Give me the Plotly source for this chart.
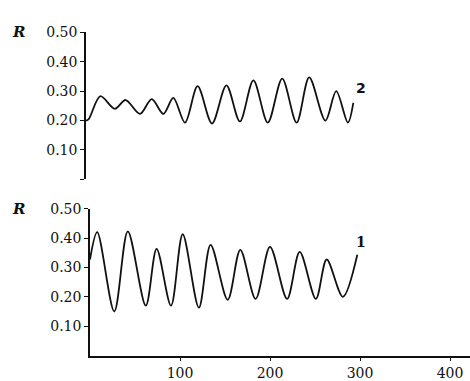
import plotly.graph_objects as go

# Curve 2 (upper panel)
x2 = [0, 3, 16, 32, 44, 60, 73, 86, 97, 110, 124, 140, 156, 171, 186, 202, 218, 234, 248, 266, 278, 291, 297]
r2 = [0.20, 0.205, 0.283, 0.24, 0.27, 0.223, 0.273, 0.223, 0.277, 0.193, 0.317, 0.19, 0.32,
      0.197, 0.337, 0.193, 0.343, 0.193, 0.347, 0.20, 0.30, 0.193, 0.26]

# Curve 1 (lower panel)
x1 = [0, 8, 27, 42, 62, 74, 90, 103, 121, 134, 153, 167, 184, 200, 219, 233, 251, 263, 281, 297]
r1 = [0.327, 0.42, 0.15, 0.423, 0.17, 0.363, 0.17, 0.413, 0.163, 0.377, 0.19, 0.36,
      0.193, 0.37, 0.193, 0.353, 0.193, 0.327, 0.2, 0.343]

y_ticks = [0.10, 0.20, 0.30, 0.40, 0.50]
y_ticktext = ["0.10", "0.20", "0.30", "0.40", "0.50"]
x_ticks = [100, 200, 300, 400]
x_ticktext = ["100", "200", "300", "400"]

W, H = 470, 381
tickfont = dict(family="DejaVu Serif", size=14, color="#111")

fig = go.Figure()
fig.add_trace(go.Scatter(x=x2, y=r2, mode="lines", xaxis="x2", yaxis="y2",
                         line=dict(color="#111", width=1.8, shape="spline", smoothing=0.9),
                         showlegend=False, hoverinfo="skip"))
fig.add_trace(go.Scatter(x=x1, y=r1, mode="lines", xaxis="x", yaxis="y",
                         line=dict(color="#111", width=1.8, shape="spline", smoothing=0.9),
                         showlegend=False, hoverinfo="skip"))

xr = [0, (W - 90) / 0.9]
xr2 = [0, (W - 86) / 0.9]

fig.update_layout(
    width=W, height=H,
    margin=dict(l=0, r=0, t=0, b=0),
    paper_bgcolor="white", plot_bgcolor="white",
    # bottom panel
    xaxis=dict(domain=[90 / W, 1], range=xr, showline=True, linecolor="#111", linewidth=1.5,
               tickvals=x_ticks, ticktext=x_ticktext, ticks="outside", ticklen=4,
               tickcolor="#111", tickfont=tickfont, showgrid=False, zeroline=False,
               anchor="y"),
    yaxis=dict(domain=[(H - 355) / H, (H - 205) / H], range=[0, 0.5], showline=True,
               linecolor="#111", linewidth=1.5, tickvals=y_ticks, ticktext=y_ticktext,
               ticks="outside", ticklen=4, tickcolor="#111", tickfont=tickfont,
               showgrid=False, zeroline=False, anchor="x"),
    xaxis3=dict(domain=[90 / W, 1], range=xr, overlaying="x", tickvals=x_ticks,
                ticks="inside", ticklen=4, tickcolor="#111", showticklabels=False,
                showgrid=False, zeroline=False, anchor="y"),
    yaxis3=dict(domain=[(H - 355) / H, (H - 205) / H], range=[0, 0.5], overlaying="y",
                tickvals=y_ticks, ticks="inside", ticklen=4, tickcolor="#111",
                showticklabels=False, showgrid=False, zeroline=False, anchor="x"),
    # top panel
    xaxis2=dict(domain=[86 / W, 1], range=xr2, visible=False, anchor="y2"),
    yaxis2=dict(domain=[(H - 175) / H, (H - 25) / H], range=[0, 0.5], showline=True,
                linecolor="#111", linewidth=1.5, tickvals=[0.0] + y_ticks,
                ticktext=[""] + y_ticktext, ticks="outside", ticklen=4, tickcolor="#111",
                tickfont=tickfont, showgrid=False, zeroline=False, anchor="x2"),
    yaxis4=dict(domain=[(H - 175) / H, (H - 25) / H], range=[0, 0.5], overlaying="y2",
                tickvals=[0.0] + y_ticks, ticks="inside", ticklen=4, tickcolor="#111",
                showticklabels=False, showgrid=False, zeroline=False, anchor="x2"),
    annotations=[
        dict(text="<b><i>R</i></b>", xref="paper", yref="y2", x=18 / W, y=0.5,
             xanchor="center", showarrow=False,
             font=dict(family="DejaVu Serif", size=15, color="#111")),
        dict(text="<b><i>R</i></b>", xref="paper", yref="y", x=18 / W, y=0.5,
             xanchor="center", showarrow=False,
             font=dict(family="DejaVu Serif", size=15, color="#111")),
        dict(text="<b>2</b>", xref="x2", yref="y2", x=x2[-1] + 8, y=0.31,
             showarrow=False, font=dict(family="DejaVu Sans", size=14, color="#111")),
        dict(text="<b>1</b>", xref="x", yref="y", x=x1[-1] + 4, y=0.385,
             showarrow=False, font=dict(family="DejaVu Serif", size=14, color="#111")),
    ],
)

fig.write_html("out.html", config={"displayModeBar": False},
               post_script="document.body.style.margin='0';")
